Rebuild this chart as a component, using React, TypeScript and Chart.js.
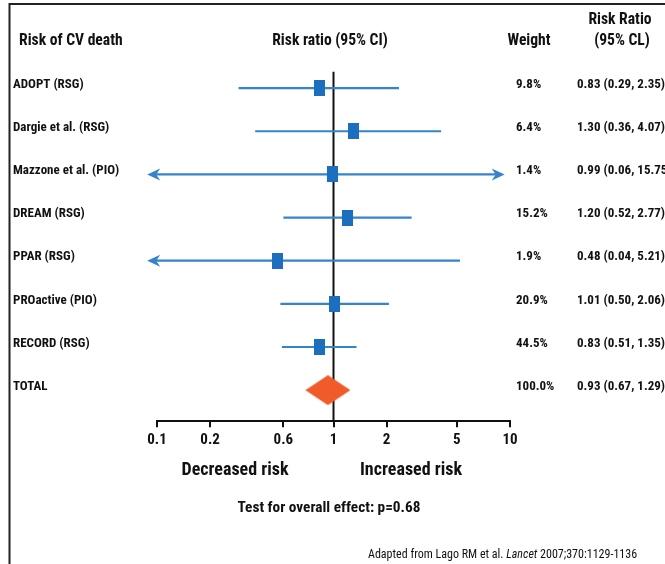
import React, { useEffect, useRef } from 'react';
import { Chart, registerables } from 'chart.js';

Chart.register(...registerables);

// ---------- data ----------
const studies = [
  'ADOPT (RSG)',
  'Dargie et al. (RSG)',
  'Mazzone et al. (PIO)',
  'DREAM (RSG)',
  'PPAR (RSG)',
  'PROactive (PIO)',
  'RECORD (RSG)',
];
const riskRatios = [0.83, 1.3, 0.99, 1.2, 0.48, 1.01, 0.83];
const ciLow = [0.29, 0.36, 0.06, 0.52, 0.04, 0.5, 0.51];
const ciHigh = [2.35, 4.07, 15.75, 2.77, 5.21, 2.06, 1.35];
const weights = ['9.8%', '6.4%', '1.4%', '15.2%', '1.9%', '20.9%', '44.5%'];
const ciTexts = [
  '0.83 (0.29, 2.35)',
  '1.30 (0.36, 4.07)',
  '0.99 (0.06, 15.75)',
  '1.20 (0.52, 2.77)',
  '0.48 (0.04, 5.21)',
  '1.01 (0.50, 2.06)',
  '0.83 (0.51, 1.35)',
];
const totalLabel = 'TOTAL';
const totalRR = [0.93];
const totalWeight = '100.0%';
const totalCIText = '0.93 (0.67, 1.29)';

const tickValues = [0.1, 0.2, 0.52, 1, 2, 5, 10];
const tickLabels = ['0.1', '0.2', '0.6', '1', '2', '5', '10'];

// ---------- style ----------
const FONT = "'Liberation Sans Narrow', 'Arial Narrow', 'Roboto Condensed', sans-serif";
const TEXT = '#111111';
const LINE_BLUE = '#3583cb';
const SQUARE_BLUE = '#1c6fbf';
const DIAMOND = '#f15a29';
const ARROW_LEFT_TIP = 0.088;
const ARROW_RIGHT_TIP = 9.33;

function makeRect(w: number, h: number, color: string) {
  const c = document.createElement('canvas');
  c.width = w;
  c.height = h;
  const g = c.getContext('2d')!;
  g.fillStyle = color;
  g.fillRect(0, 0, w, h);
  return c;
}

function makeDiamond(w: number, h: number, color: string) {
  const c = document.createElement('canvas');
  c.width = w;
  c.height = h;
  const g = c.getContext('2d')!;
  g.fillStyle = color;
  g.beginPath();
  g.moveTo(0, h / 2);
  g.lineTo(w / 2, 0);
  g.lineTo(w, h / 2);
  g.lineTo(w / 2, h);
  g.closePath();
  g.fill();
  return c;
}

const ciPlugin = {
  id: 'ciLines',
  beforeDatasetsDraw(chart: any) {
    const { ctx } = chart;
    const xs = chart.scales.x;
    const ys = chart.scales.y;
    ctx.save();
    // reference line at 1
    const x1 = xs.getPixelForValue(1);
    ctx.strokeStyle = '#111';
    ctx.lineWidth = 2;
    ctx.beginPath();
    ctx.moveTo(x1, ys.getPixelForValue(-0.38));
    ctx.lineTo(x1, chart.chartArea.bottom);
    ctx.stroke();

    ctx.strokeStyle = LINE_BLUE;
    ctx.fillStyle = LINE_BLUE;
    ctx.lineWidth = 2.2;
    studies.forEach((_, i) => {
      const y = ys.getPixelForValue(i);
      const leftArrow = ciLow[i] < xs.min;
      const rightArrow = ciHigh[i] > xs.max;
      const xl = xs.getPixelForValue(leftArrow ? ARROW_LEFT_TIP : ciLow[i]);
      const xr = xs.getPixelForValue(rightArrow ? ARROW_RIGHT_TIP : ciHigh[i]);
      ctx.beginPath();
      ctx.moveTo(xl + (leftArrow ? 6 : 0), y);
      ctx.lineTo(xr - (rightArrow ? 6 : 0), y);
      ctx.stroke();
      if (leftArrow) {
        ctx.beginPath();
        ctx.moveTo(xl, y);
        ctx.lineTo(xl + 13, y - 6);
        ctx.lineTo(xl + 9, y);
        ctx.lineTo(xl + 13, y + 6);
        ctx.closePath();
        ctx.fill();
      }
      if (rightArrow) {
        ctx.beginPath();
        ctx.moveTo(xr, y);
        ctx.lineTo(xr - 13, y - 6);
        ctx.lineTo(xr - 9, y);
        ctx.lineTo(xr - 13, y + 6);
        ctx.closePath();
        ctx.fill();
      }
    });
    ctx.restore();
  },
};

const textPlugin = {
  id: 'texts',
  afterDraw(chart: any) {
    const { ctx } = chart;
    const ys = chart.scales.y;
    ctx.save();
    // frame
    ctx.strokeStyle = '#222';
    ctx.lineWidth = 2;
    ctx.beginPath();
    ctx.moveTo(665, 4);
    ctx.lineTo(9.5, 4);
    ctx.lineTo(9.5, 564);
    ctx.stroke();

    ctx.fillStyle = TEXT;
    ctx.textBaseline = 'middle';
    // headers
    ctx.font = `bold 15.6px ${FONT}`;
    ctx.textAlign = 'left';
    ctx.fillText('Risk of CV death', 19, 41);
    ctx.textAlign = 'center';
    ctx.fillText('Risk ratio (95% CI)', 330, 41);
    ctx.fillText('Weight', 529, 41);
    ctx.fillText('Risk Ratio', 620, 20);
    ctx.fillText('(95% CL)', 622, 41);

    // rows
    ctx.font = `bold 13px ${FONT}`;
    const rows = [...studies, totalLabel];
    const w = [...weights, totalWeight];
    const c = [...ciTexts, totalCIText];
    rows.forEach((name, i) => {
      const y = ys.getPixelForValue(i) - 3.5;
      ctx.textAlign = 'left';
      ctx.fillText(name, 13, y);
      ctx.fillText(w[i], 516, y);
      ctx.fillText(c[i], 577, y);
    });

    // axis captions
    ctx.textAlign = 'center';
    ctx.font = `bold 18px ${FONT}`;
    ctx.fillText('Decreased risk', 235, 470);
    ctx.fillText('Increased risk', 411, 470);
    ctx.font = `bold 15.3px ${FONT}`;
    ctx.fillText('Test for overall effect: p=0.68', 329, 508);

    // footnote
    ctx.textAlign = 'left';
    const parts: [string, string][] = [
      ['Adapted from Lago RM et al. ', `12px ${FONT}`],
      ['Lancet', `italic 12px ${FONT}`],
      [' 2007;370:1129-1136', `12px ${FONT}`],
    ];
    let x = 368;
    parts.forEach(([t, f]) => {
      ctx.font = f;
      ctx.fillText(t, x, 555);
      x += ctx.measureText(t).width;
    });
    ctx.restore();
  },
};

export default function App() {
  const ref = useRef<HTMLCanvasElement>(null);
  useEffect(() => {
    if (!ref.current) return;
    const square = makeRect(11, 16, SQUARE_BLUE);
    const diamond = makeDiamond(45, 30, DIAMOND);
    const chart = new Chart(ref.current, {
      type: 'scatter',
      data: {
        datasets: [
          {
            label: 'Studies',
            data: riskRatios.map((v, i) => ({ x: v, y: i })),
            pointStyle: square as any,
            backgroundColor: SQUARE_BLUE,
          },
          {
            label: 'Total',
            data: totalRR.map((v) => ({ x: v, y: studies.length })),
            pointStyle: diamond as any,
            backgroundColor: DIAMOND,
          },
        ],
      },
      options: {
        animation: false,
        responsive: false,
        layout: { padding: { left: 157, right: 155, top: 23.35, bottom: 110.8 } },
        plugins: { legend: { display: false }, tooltip: { enabled: false } },
        scales: {
          x: {
            type: 'logarithmic',
            min: 0.1,
            max: 10,
            position: 'bottom',
            afterBuildTicks: (s: any) => {
              s.ticks = tickValues.map((v) => ({ value: v }));
            },
            ticks: {
              callback: (_v: any, i: number) => tickLabels[i],
              font: { family: FONT, size: 15, weight: 'bold' },
              color: TEXT,
              padding: 4,
              autoSkip: false,
              maxRotation: 0,
            },
            grid: { drawOnChartArea: false, drawTicks: true, tickLength: 6, color: '#111', lineWidth: 2 },
            border: { display: true, color: '#111', width: 2 },
          },
          y: { type: 'linear', display: false, reverse: true, min: -1.5, max: 7.72 },
        },
      },
      plugins: [ciPlugin, textPlugin],
    } as any);
    return () => chart.destroy();
  }, []);
  return (
    <canvas
      ref={ref}
      width={665}
      height={564}
      style={{ position: 'fixed', left: 0, top: 0, width: 665, height: 564, display: 'block' }}
    />
  );
}
